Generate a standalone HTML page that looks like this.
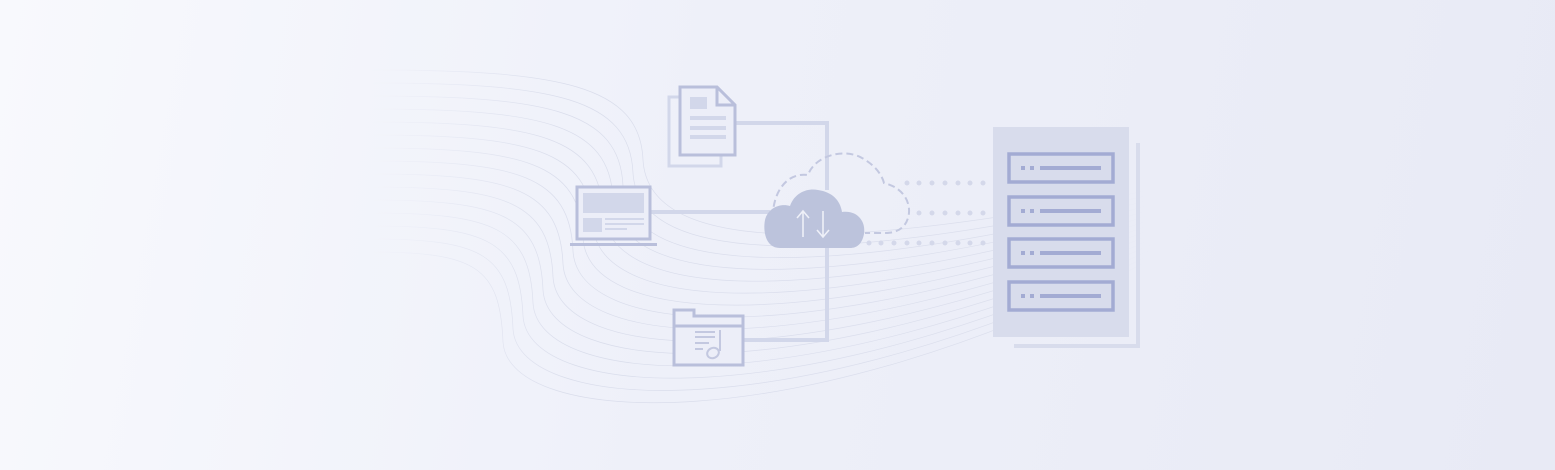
<!DOCTYPE html>
<html><head><meta charset="utf-8"><style>
html,body{margin:0;padding:0}
body{width:1555px;height:470px;overflow:hidden;background:linear-gradient(100deg,#f8f9fd 0%,#eef0f9 45%,#e8eaf5 100%)}
svg{display:block}
</style></head><body>
<svg width="1555" height="470" viewBox="0 0 1555 470" xmlns="http://www.w3.org/2000/svg">
<defs><linearGradient id="wg" gradientUnits="userSpaceOnUse" x1="370" y1="0" x2="1150" y2="0">
<stop offset="0" stop-color="#d4d8e8" stop-opacity="0"/>
<stop offset="0.25" stop-color="#d4d8e8" stop-opacity="0.8"/>
<stop offset="0.8" stop-color="#d4d8e8" stop-opacity="0.7"/>
<stop offset="1" stop-color="#d4d8e8" stop-opacity="0"/>
</linearGradient></defs>
<g fill="none" stroke="url(#wg)" stroke-width="0.7" id="waves"></g>
<!-- connectors -->
<g fill="none" stroke="#d2d7ea" stroke-width="4">
<path d="M736 123 H827 V190"/>
<path d="M650 212 H770"/>
<path d="M744 340 H827 V245"/>
</g>
<!-- document -->
<rect x="669" y="97" width="52" height="69" fill="none" stroke="#d2d7ea" stroke-width="3"/>
<path d="M680 87 H717 L735 105 V155 H680 Z" fill="#eceef8" stroke="#b9bfdb" stroke-width="3"/>
<path d="M717 87 V105 H735" fill="none" stroke="#b9bfdb" stroke-width="3"/>
<rect x="690" y="97" width="17" height="12" fill="#d2d7ea"/>
<rect x="690" y="116" width="36" height="4" fill="#d2d7ea"/>
<rect x="690" y="126" width="36" height="4" fill="#d2d7ea"/>
<rect x="690" y="135" width="36" height="4" fill="#d2d7ea"/>
<!-- laptop -->
<rect x="577" y="187" width="73" height="52" fill="#eceef8" stroke="#b9bfdb" stroke-width="3"/>
<rect x="583" y="193" width="61" height="20" fill="#d2d7ea"/>
<rect x="583" y="218" width="19" height="14" fill="#d2d7ea"/>
<rect x="605" y="218" width="39" height="2" fill="#d2d7ea"/>
<rect x="605" y="223" width="39" height="2" fill="#d2d7ea"/>
<rect x="605" y="228" width="22" height="2" fill="#d2d7ea"/>
<rect x="570" y="243" width="87" height="3" fill="#b9bfdb"/>
<!-- folder -->
<path d="M674 365 V310 H694 V316 H743 V365 Z" fill="#eceef8" stroke="#b9bfdb" stroke-width="3"/>
<path d="M674 326 H743" stroke="#b9bfdb" stroke-width="3"/>
<g stroke="#c3c8e0" stroke-width="2" fill="none">
<path d="M695 332 H715 M695 337 H715 M695 343 H709 M695 349 H703"/>
<path d="M720 330 V351"/><ellipse cx="713" cy="353" rx="6" ry="5" transform="rotate(-25 713 353)"/>
</g>
<!-- dashed cloud -->
<path d="M790 240 C775 240 770 228 773 215 C773 195 785 172 808 175 C815 155 845 148 862 158 C875 165 882 175 884 183 C905 188 912 205 908 218 C905 228 897 233 885 233 H865" fill="none" stroke="#c3c8e0" stroke-width="2" stroke-dasharray="7 4"/>
<!-- solid cloud -->
<path d="M780 248 C765 248 763 230 765 220 C768 208 780 203 790 206 C795 192 808 188 818 190 C832 192 840 200 842 212 C858 210 866 222 864 234 C862 244 857 248 850 248 Z" fill="#bcc3dc"/>
<g stroke="#eef0f8" stroke-width="1.6" fill="none">
<path d="M803 237 V212 M797 218 L803 211 L809 218"/>
<path d="M823 211 V236 M817 230 L823 237 L829 230"/>
</g>
<!-- dots -->
<g fill="#d4d8ea">
<circle cx="907" cy="183" r="2.5"/><circle cx="919" cy="183" r="2.5"/><circle cx="932" cy="183" r="2.5"/><circle cx="945" cy="183" r="2.5"/><circle cx="958" cy="183" r="2.5"/><circle cx="970" cy="183" r="2.5"/><circle cx="983" cy="183" r="2.5"/>
<circle cx="919" cy="213" r="2.5"/><circle cx="932" cy="213" r="2.5"/><circle cx="945" cy="213" r="2.5"/><circle cx="958" cy="213" r="2.5"/><circle cx="970" cy="213" r="2.5"/><circle cx="983" cy="213" r="2.5"/>
<circle cx="869" cy="243" r="2.5"/><circle cx="881" cy="243" r="2.5"/><circle cx="894" cy="243" r="2.5"/><circle cx="907" cy="243" r="2.5"/><circle cx="919" cy="243" r="2.5"/><circle cx="932" cy="243" r="2.5"/><circle cx="945" cy="243" r="2.5"/><circle cx="958" cy="243" r="2.5"/><circle cx="970" cy="243" r="2.5"/><circle cx="983" cy="243" r="2.5"/>
</g>
<!-- server -->
<path d="M1014 346 H1138 V143" fill="none" stroke="#d8dcec" stroke-width="4"/>
<rect x="993" y="127" width="136" height="210" fill="#d8dcec"/>
<g fill="none" stroke="#a3abd3" stroke-width="3.5">
<rect x="1009" y="154" width="104" height="28"/>
<rect x="1009" y="197" width="104" height="28"/>
<rect x="1009" y="239" width="104" height="28"/>
<rect x="1009" y="282" width="104" height="28"/>
</g>
<g fill="#a3abd3">
<rect x="1021" y="166" width="4" height="4"/><rect x="1030" y="166" width="4" height="4"/><rect x="1040" y="166" width="61" height="4"/>
<rect x="1021" y="209" width="4" height="4"/><rect x="1030" y="209" width="4" height="4"/><rect x="1040" y="209" width="61" height="4"/>
<rect x="1021" y="251" width="4" height="4"/><rect x="1030" y="251" width="4" height="4"/><rect x="1040" y="251" width="61" height="4"/>
<rect x="1021" y="294" width="4" height="4"/><rect x="1030" y="294" width="4" height="4"/><rect x="1040" y="294" width="61" height="4"/>
</g>
</svg>
<script>
var g=document.getElementById('waves'),s='';
for(var i=0;i<15;i++){var y0=70+13*i,b=640-10*i;
s+='<path d="M370 '+y0+' C'+(560-6*i)+' '+y0+' '+b+' '+(y0+15)+' '+(b+3)+' '+(y0+90)+' C'+(b+8)+' '+(y0+175)+' 800 '+(y0+190)+' 1150 '+(190+5*i)+'"/>';}
g.innerHTML=s;
</script>
</body></html>
